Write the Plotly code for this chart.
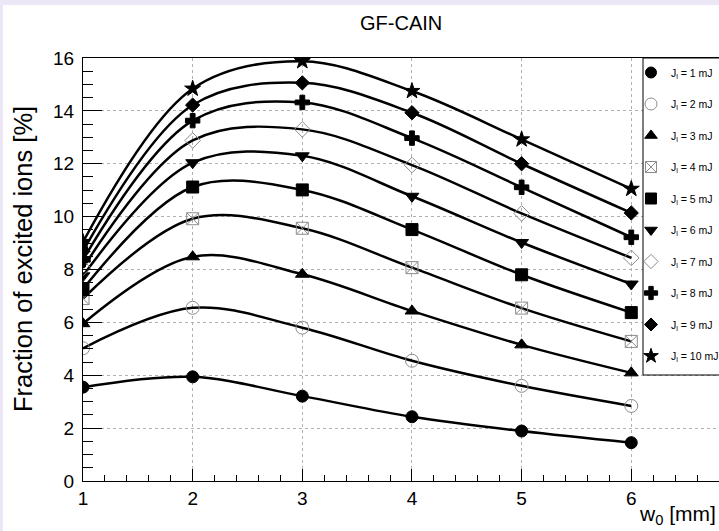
import plotly.graph_objects as go

w0 = [1, 2, 3, 4, 5, 6]

J1 = [3.55, 3.94, 3.21, 2.43, 1.89, 1.45]
J2 = [5.02, 6.55, 5.80, 4.55, 3.60, 2.84]
J3 = [5.95, 8.48, 7.82, 6.43, 5.15, 4.09]
J4 = [6.90, 9.92, 9.56, 8.07, 6.54, 5.28]
J5 = [7.26, 11.12, 11.01, 9.51, 7.80, 6.37]
J6 = [7.76, 12.04, 12.30, 10.77, 9.02, 7.45]
J7 = [8.06, 12.88, 13.30, 11.95, 10.12, 8.44]
J8 = [8.37, 13.63, 14.32, 12.97, 11.11, 9.22]
J9 = [8.69, 14.22, 15.06, 13.93, 12.00, 10.14]
J10 = [9.04, 14.84, 15.88, 14.75, 12.92, 11.05]

series = [J1, J2, J3, J4, J5, J6, J7, J8, J9, J10]
labels = ["J<sub>l</sub> = %d mJ" % i for i in range(1, 11)]
symbols = ["circle", "circle-open", "triangle-up", "square-x-open", "square",
           "triangle-down", "diamond-open", "cross", "diamond", "star"]
sizes = [12, 13, 12, 12, 12, 12, 12, 12, 11, 12]
colors = ["black", "#8c8c8c", "black", "#8c8c8c", "black",
          "black", "#8c8c8c", "black", "black", "black"]

FONT = "Liberation Sans, Arial, Helvetica, sans-serif"

fig = go.Figure()
for i, (ys, lab) in enumerate(zip(series, labels)):
    mk = dict(symbol=symbols[i], size=sizes[i], color=colors[i],
              line=dict(color=colors[i], width=1))
    fig.add_trace(go.Scatter(
        x=w0, y=ys, name=lab, mode="lines+markers",
        legendgroup=str(i), showlegend=False,
        line=dict(color="black", width=2.5, shape="spline", smoothing=1.0),
        marker=mk,
    ))
    # legend entry (marker only, so the symbol stays inside the legend box)
    fig.add_trace(go.Scatter(
        x=[None], y=[None], name=lab, mode="markers",
        legendgroup=str(i), showlegend=True,
        marker=dict(symbol=symbols[i], size=sizes[i] - 1, color=colors[i],
                    line=dict(color=colors[i], width=1)),
    ))

# plot-area geometry: x 83..719 px, y 58..481 px
PW, PH = 636.0, 423.0
def px(x):
    return (x - 83) / PW
def py(y):
    return (481 - y) / PH

fig.update_layout(
    width=719, height=531,
    margin=dict(l=83, r=0, t=58, b=50, autoexpand=False),
    paper_bgcolor="#ebe7f7",
    plot_bgcolor="white",
    font=dict(family=FONT, color="black"),
    showlegend=True,
    legend=dict(
        x=px(631), y=1.0, xanchor="left", yanchor="top",
        bgcolor="rgba(0,0,0,0)", borderwidth=0,
        font=dict(family=FONT, size=10.5, color="black"),
        tracegroupgap=12.5, itemwidth=30,
    ),
    xaxis=dict(
        range=[1, 6.8], tick0=1, dtick=1,
        ticks="inside", ticklen=12, tickcolor="black", tickwidth=1,
        showline=True, linecolor="black", linewidth=1, mirror=True,
        showgrid=True, gridcolor="#b0b0b0", griddash="dot", gridwidth=1,
        zeroline=False,
        tickfont=dict(family=FONT, size=19, color="black"),
        minor=dict(dtick=0.2, ticks="inside", ticklen=6, tickcolor="black", showgrid=False),
    ),
    yaxis=dict(
        range=[0, 16], tick0=0, dtick=2,
        ticks="inside", ticklen=19, tickcolor="black", tickwidth=1,
        showline=True, linecolor="black", linewidth=1, mirror=True,
        showgrid=True, gridcolor="#b0b0b0", griddash="dot", gridwidth=1,
        zeroline=False,
        tickfont=dict(family=FONT, size=19, color="black"),
        ticklabelstandoff=4,
        minor=dict(dtick=0.5, ticks="inside", ticklen=10, tickcolor="black", showgrid=False),
    ),
    shapes=[
        # white canvas over lavender page border
        dict(type="rect", xref="paper", yref="paper", layer="below",
             x0=px(3), x1=px(740), y0=py(540), y1=py(5),
             fillcolor="white", line=dict(width=0)),
        # legend box
        dict(type="rect", xref="paper", yref="paper", layer="above",
             x0=px(643), x1=px(760), y0=py(375), y1=py(58),
             fillcolor="white", line=dict(color="black", width=1)),
    ],
    annotations=[
        dict(text="GF-CAIN", xref="paper", yref="paper", x=0.5, y=py(23),
             xanchor="center", yanchor="middle", showarrow=False,
             font=dict(family=FONT, size=20, color="black")),
        dict(text="Fraction of excited ions [%]", xref="paper", yref="paper",
             x=px(23), y=py(259), xanchor="center", yanchor="middle",
             textangle=-90, showarrow=False,
             font=dict(family=FONT, size=25.5, color="black")),
        dict(text="w<sub>0</sub> [mm]", xref="paper", yref="paper",
             x=px(718), y=py(515), xanchor="right", yanchor="middle",
             showarrow=False,
             font=dict(family=FONT, size=21, color="black")),
    ],
)

fig.write_html("out.html",
               config={"displayModeBar": False},
               post_script="document.body.style.margin='0';document.body.style.overflow='hidden';")
